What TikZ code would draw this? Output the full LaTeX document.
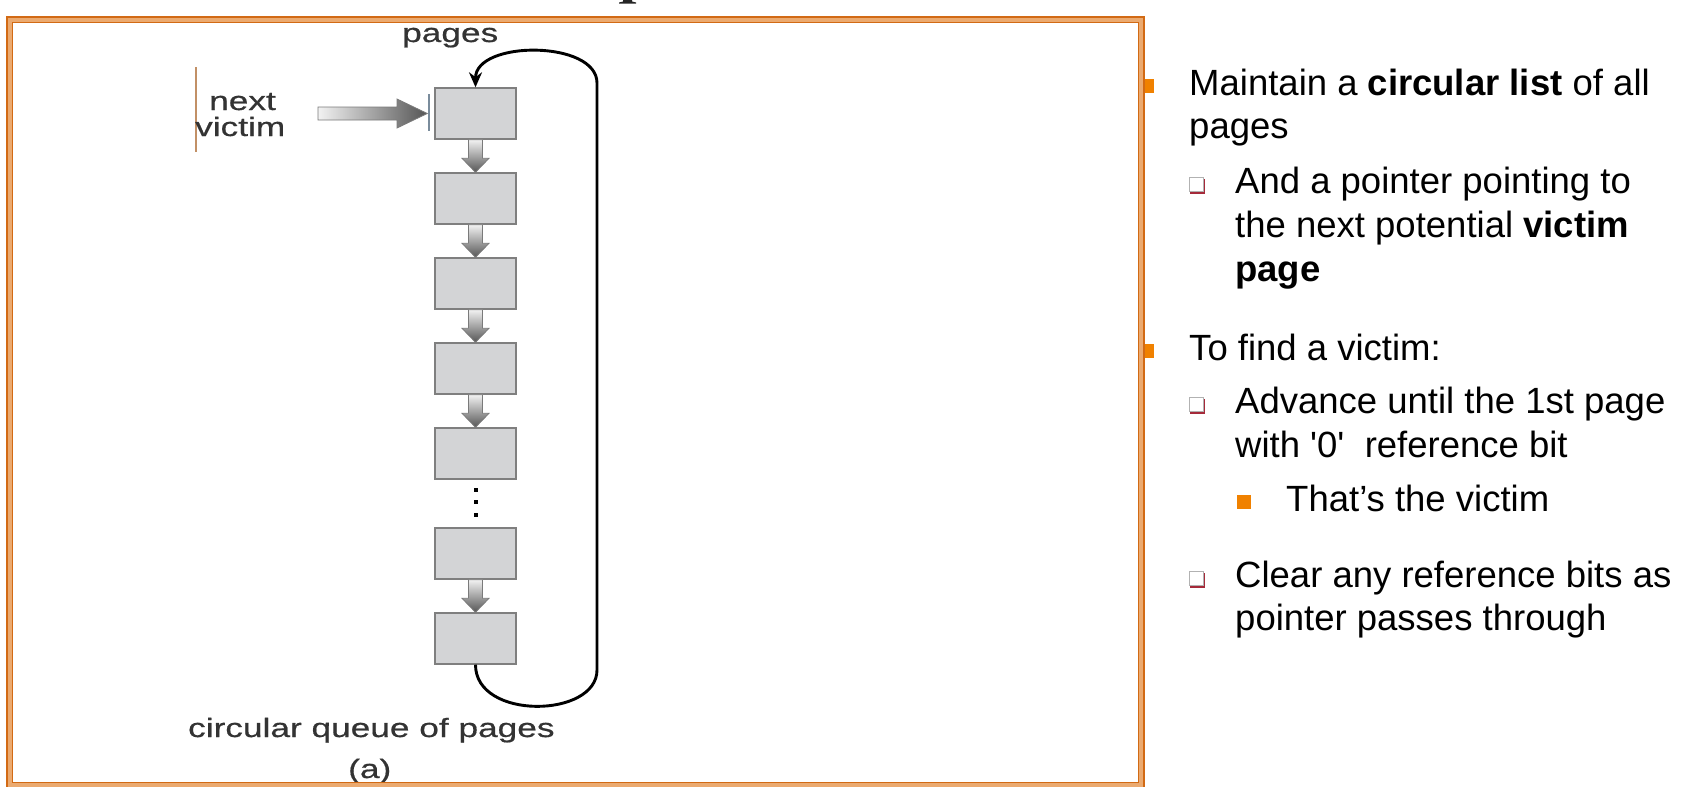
\documentclass[tikz,border=0pt]{standalone}
\usepackage{fontspec}
\newfontfamily\figfont[FakeStretch=1.33,FakeBold=0.6]{Liberation Sans}
\newfontfamily\rfont[Ligatures=TeXOff]{Liberation Sans}
\usetikzlibrary{arrows.meta,calc}
\definecolor{boxfill}{HTML}{D3D4D6}
\definecolor{boxedge}{HTML}{7F7F7F}
\definecolor{figgray}{HTML}{333333}
\definecolor{arrlight}{HTML}{F2F2F2}
\definecolor{arrdark}{HTML}{555555}
\definecolor{arredge}{HTML}{7A7A7A}
\definecolor{framelight}{HTML}{EBAA70}
\definecolor{framedark}{HTML}{D26A14}
\definecolor{bulletorange}{HTML}{F08100}
\definecolor{subred}{HTML}{A52A3A}
\definecolor{barblue}{HTML}{7A8C9C}
\definecolor{vlinebrown}{HTML}{C29066}
\tikzset{
  pagebox/.style={draw=boxedge, fill=boxfill, line width=1.4pt, minimum width=81pt, minimum height=51pt, inner sep=0pt},
  figtext/.style={font=\figfont\fontsize{26.5}{30}\selectfont, text=figgray, inner sep=0pt, anchor=base west},
  rtext/.style={font=\rfont\fontsize{36.5}{44}\selectfont, text=black, inner sep=0pt, anchor=base west},
  darr/.style={draw=arredge, line width=0.8pt, top color=arrlight, bottom color=arrdark},
  harr/.style={draw=arredge, line width=0.8pt, left color=arrlight, right color=arrdark},
  loopline/.style={draw=black, line width=2.9pt},
  lvlone/.style={fill=bulletorange},
  lvlthree/.style={fill=bulletorange},
  subshadow/.style={fill=subred},
  subface/.style={fill=white, draw=gray!60, line width=0.7pt},
}
\begin{document}
\begin{tikzpicture}[x=1pt,y=-1pt]
\useasboundingbox (0,0) rectangle (1684,787);
\fill[white] (0,0) rectangle (1684,787);

% fragment of a glyph cut by the top edge
\fill[black!85] (623,0) -- (632,0) -- (632,1.5) -- (636,2.5) -- (636,3.6) -- (619,3.6) -- (619,2.5) -- (623,1.5) -- cycle;

% page boxes
\node[pagebox] (b1) at (475.5,113.5) {};
\node[pagebox] (b2) at (475.5,198.5) {};
\node[pagebox] (b3) at (475.5,283.5) {};
\node[pagebox] (b4) at (475.5,368.5) {};
\node[pagebox] (b5) at (475.5,453.5) {};
\node[pagebox] (b6) at (475.5,553.5) {};
\node[pagebox] (b7) at (475.5,638.5) {};

% block arrows between boxes
\foreach \a/\b in {b1/b2,b2/b3,b3/b4,b4/b5,b6/b7}{
  \path[darr] ([xshift=-7pt]\a.south) -- ([xshift=-7pt,yshift=14pt]\b.north)
    -- ([xshift=-13.5pt,yshift=14pt]\b.north) -- (\b.north)
    -- ([xshift=13.5pt,yshift=14pt]\b.north) -- ([xshift=7pt,yshift=14pt]\b.north)
    -- ([xshift=7pt]\a.south) -- cycle;
}

% dots
\foreach \yy in {490,502,515}{
  \fill[black] (474,\yy-2) rectangle (478,\yy+2);
}

% circular loop
\draw[loopline, -{Stealth[length=15pt,width=13pt]}] (b7.south) .. controls +(0,56) and (597,718) .. (597,670)
   -- (597,83) .. controls (597,40) and (475.5,40) .. (b1.north);

% next victim pointer
\coordinate (nvstart) at (318,113.5);
\path[harr] (nvstart) ++(0,-6.5) -- (397,107) -- (397,99) -- ([xshift=-7pt]b1.west) -- (397,128) -- (397,120) -- (318,120) -- cycle;
\draw[barblue, line width=2pt] (429,94) -- (429,131);
\draw[vlinebrown, line width=1.2pt] (196,67) -- (196,152);

% figure texts
\node[figtext] (tpages) at (402,42) {pages};
\node[figtext] (tnext) at (209,110) {next};
\node[figtext] (tvictim) at (195,136) {victim};
\node[figtext] (tcq) at (188,737) {circular queue of pages};
\node[figtext] (ta) at (348,778) {(a)};

% bullets
\fill[lvlone] (1141,79) rectangle (1154,93);
\fill[lvlone] (1141,344) rectangle (1154,358);
\fill[lvlthree] (1237,495) rectangle (1251,509);
\foreach \yy in {177,397,571}{
  \fill[subshadow] (1190,\yy+2) rectangle (1205,\yy+16.5);
  \path[subface] (1189,\yy) rectangle (1203,\yy+14);
}

% frame
\draw[framelight, line width=5pt] (9.5,20) rectangle (1141,785);
\draw[framedark, line width=1.2pt] (7,17) rectangle (1144,788);
\draw[framedark, line width=0.9pt] (12,22.5) rectangle (1138.5,782.5);

% right-hand text
\node[rtext] (r1a) at (1189,95) {Maintain a \textbf{circular list} of all};
\node[rtext] (r1b) at (1189,138) {pages};
\node[rtext] (r2a) at (1235,193) {And a pointer pointing to};
\node[rtext] (r2b) at (1235,237) {the next potential \textbf{victim}};
\node[rtext] (r2c) at (1235,281) {\textbf{page}};
\node[rtext] (r3a) at (1189,360) {To find a victim:};
\node[rtext] (r4a) at (1235,413) {Advance until the 1st page};
\node[rtext] (r4b) at (1235,457) {with '0'\ \ reference bit};
\node[rtext] (r5a) at (1286,511) {That’s the victim};
\node[rtext] (r6a) at (1235,587) {Clear any reference bits as};
\node[rtext] (r6b) at (1235,630) {pointer passes through};
\end{tikzpicture}
\end{document}
